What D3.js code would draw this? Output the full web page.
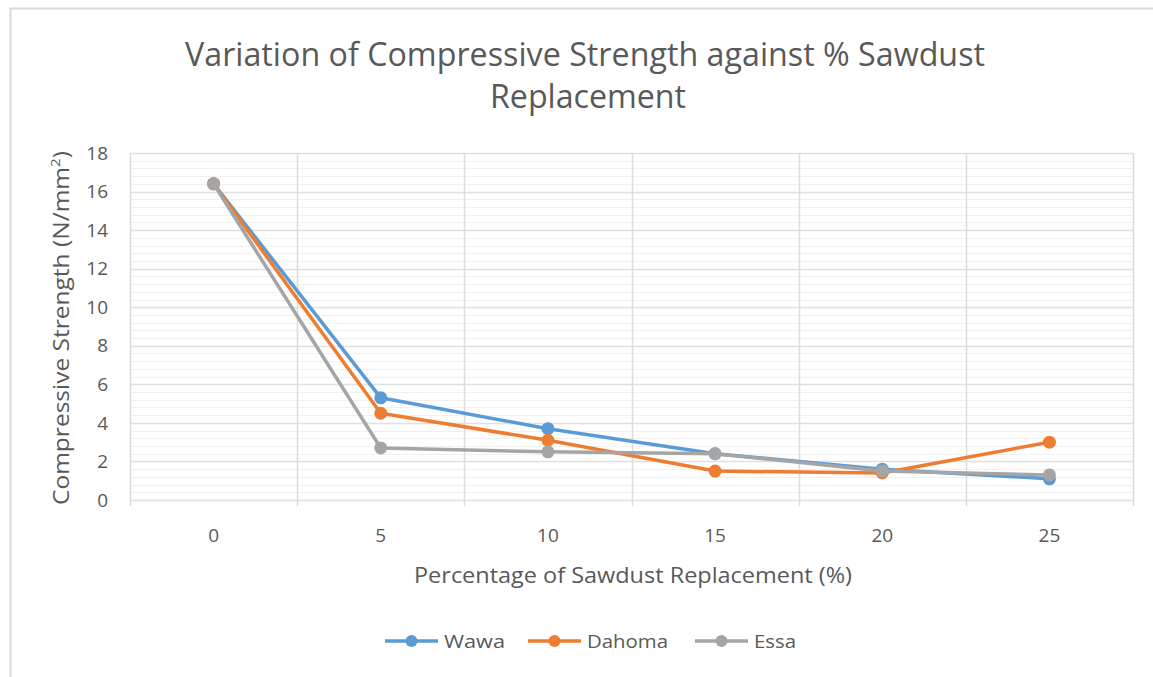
<!DOCTYPE html>
<html>
<head>
<meta charset="utf-8">
<script src="https://cdnjs.cloudflare.com/ajax/libs/d3/7.8.5/d3.min.js"></script>
<style>
  body { margin: 0; background: #fff; }
  text { font-family: "Liberation Sans Narrow", "Open Sans", sans-serif; fill: #595959; }
</style>
</head>
<body>
<div id="chart"></div>
<script>
// data
const categories = ['0', '5', '10', '15', '20', '25'];
const wawa = [16.4, 5.3, 3.7, 2.4, 1.6, 1.1];
const dahoma = [16.4, 4.5, 3.1, 1.5, 1.4, 3.0];
const essa = [16.4, 2.7, 2.5, 2.4, 1.5, 1.3];
const seriesNames = ['Wawa', 'Dahoma', 'Essa'];
const yTicks = [0, 2, 4, 6, 8, 10, 12, 14, 16, 18];

const width = 1153;
const height = 677;
const plot = { left: 130, right: 1133, top: 153, bottom: 500 };
const colors = ['#5b9bd5', '#ed7d31', '#a5a5a5'];

const series = [wawa, dahoma, essa].map((values, i) => ({
  name: seriesNames[i],
  color: colors[i],
  values: values.map((v, j) => ({ cat: categories[j], value: v }))
}));

const svg = d3.select('#chart')
  .append('svg')
  .attr('width', width)
  .attr('height', height);

// chart frame (top and left edges show in the picture)
svg.append('path')
  .attr('d', 'M10.5,680 V8.5 H1160')
  .attr('fill', 'none')
  .attr('stroke', '#d9d9d9')
  .attr('stroke-width', 2);

const x = d3.scaleBand()
  .domain(categories)
  .range([plot.left, plot.right])
  .padding(0);

const y = d3.scaleLinear()
  .domain([0, 18])
  .range([plot.bottom, plot.top]);

// minor horizontal gridlines every 0.4
const minorTicks = d3.range(0, 18.001, 0.4).filter(v => Math.abs(v / 2 - Math.round(v / 2)) > 0.01);
svg.append('g')
  .selectAll('line')
  .data(minorTicks)
  .enter()
  .append('line')
  .attr('x1', plot.left)
  .attr('x2', plot.right)
  .attr('y1', d => Math.round(y(d)) + 0.5)
  .attr('y2', d => Math.round(y(d)) + 0.5)
  .attr('stroke', '#f0f0f0')
  .attr('stroke-width', 1);

// major horizontal gridlines
svg.append('g')
  .selectAll('line')
  .data(yTicks)
  .enter()
  .append('line')
  .attr('x1', plot.left)
  .attr('x2', plot.right)
  .attr('y1', d => Math.round(y(d)) + 0.5)
  .attr('y2', d => Math.round(y(d)) + 0.5)
  .attr('stroke', '#e0e0e0')
  .attr('stroke-width', 1.5);

// vertical gridlines at category boundaries
const bounds = categories.map(c => x(c)).concat([x.range()[1]]);
svg.append('g')
  .selectAll('line')
  .data(bounds)
  .enter()
  .append('line')
  .attr('x1', d => Math.round(d) + 0.5)
  .attr('x2', d => Math.round(d) + 0.5)
  .attr('y1', plot.top)
  .attr('y2', plot.bottom + 6)
  .attr('stroke', '#dcdcdc')
  .attr('stroke-width', 1.5);

// y tick labels
svg.append('g')
  .selectAll('text')
  .data(yTicks)
  .enter()
  .append('text')
  .attr('x', 108)
  .attr('y', d => y(d))
  .attr('dy', '0.35em')
  .attr('text-anchor', 'end')
  .style('font-size', '19px')
  .text(d => d);

// x tick labels
svg.append('g')
  .selectAll('text')
  .data(categories)
  .enter()
  .append('text')
  .attr('x', d => x(d) + x.bandwidth() / 2)
  .attr('y', 535)
  .attr('dy', '0.35em')
  .attr('text-anchor', 'middle')
  .style('font-size', '19px')
  .text(d => d);

// titles
svg.append('text')
  .attr('x', 585)
  .attr('y', 66)
  .attr('text-anchor', 'middle')
  .attr('textLength', 800)
  .attr('lengthAdjust', 'spacingAndGlyphs')
  .style('font-size', '33px')
  .text('Variation of Compressive Strength against % Sawdust');

svg.append('text')
  .attr('x', 588)
  .attr('y', 108)
  .attr('text-anchor', 'middle')
  .attr('textLength', 196)
  .attr('lengthAdjust', 'spacingAndGlyphs')
  .style('font-size', '33px')
  .text('Replacement');

svg.append('text')
  .attr('x', 633)
  .attr('y', 575)
  .attr('dy', '0.35em')
  .attr('text-anchor', 'middle')
  .attr('textLength', 438)
  .attr('lengthAdjust', 'spacingAndGlyphs')
  .style('font-size', '22px')
  .text('Percentage of Sawdust Replacement (%)');

const yTitle = svg.append('text')
  .attr('transform', 'translate(62,328) rotate(-90)')
  .attr('dy', '0.35em')
  .attr('text-anchor', 'middle')
  .attr('textLength', 354)
  .attr('lengthAdjust', 'spacingAndGlyphs')
  .style('font-size', '21px');
yTitle.append('tspan').text('Compressive Strength (N/mm');
yTitle.append('tspan').attr('baseline-shift', 'super').style('font-size', '13px').text('2');
yTitle.append('tspan').text(')');

// series lines and markers
const line = d3.line()
  .x(d => x(d.cat) + x.bandwidth() / 2)
  .y(d => y(d.value));

const g = svg.append('g');
series.forEach(s => {
  g.append('path')
    .datum(s.values)
    .attr('d', line)
    .attr('fill', 'none')
    .attr('stroke', s.color)
    .attr('stroke-width', 3.5)
    .attr('stroke-linejoin', 'round');

  g.selectAll(null)
    .data(s.values)
    .enter()
    .append('circle')
    .attr('cx', d => x(d.cat) + x.bandwidth() / 2)
    .attr('cy', d => y(d.value))
    .attr('r', 6.5)
    .attr('fill', s.color);
});

// legend
const legendX = [385, 528, 695];
const legendW = [61, 81, 42];
const legend = svg.append('g')
  .selectAll('g')
  .data(series)
  .enter()
  .append('g')
  .attr('transform', (d, i) => `translate(${legendX[i]}, 641)`);

legend.append('line')
  .attr('x1', 0)
  .attr('x2', 53)
  .attr('stroke', d => d.color)
  .attr('stroke-width', 3.5);

legend.append('circle')
  .attr('cx', 26.5)
  .attr('r', 6)
  .attr('fill', d => d.color);

legend.append('text')
  .attr('x', 59)
  .attr('dy', '0.35em')
  .attr('textLength', (d, i) => legendW[i])
  .attr('lengthAdjust', 'spacingAndGlyphs')
  .style('font-size', '19px')
  .text(d => d.name);
</script>
</body>
</html>
